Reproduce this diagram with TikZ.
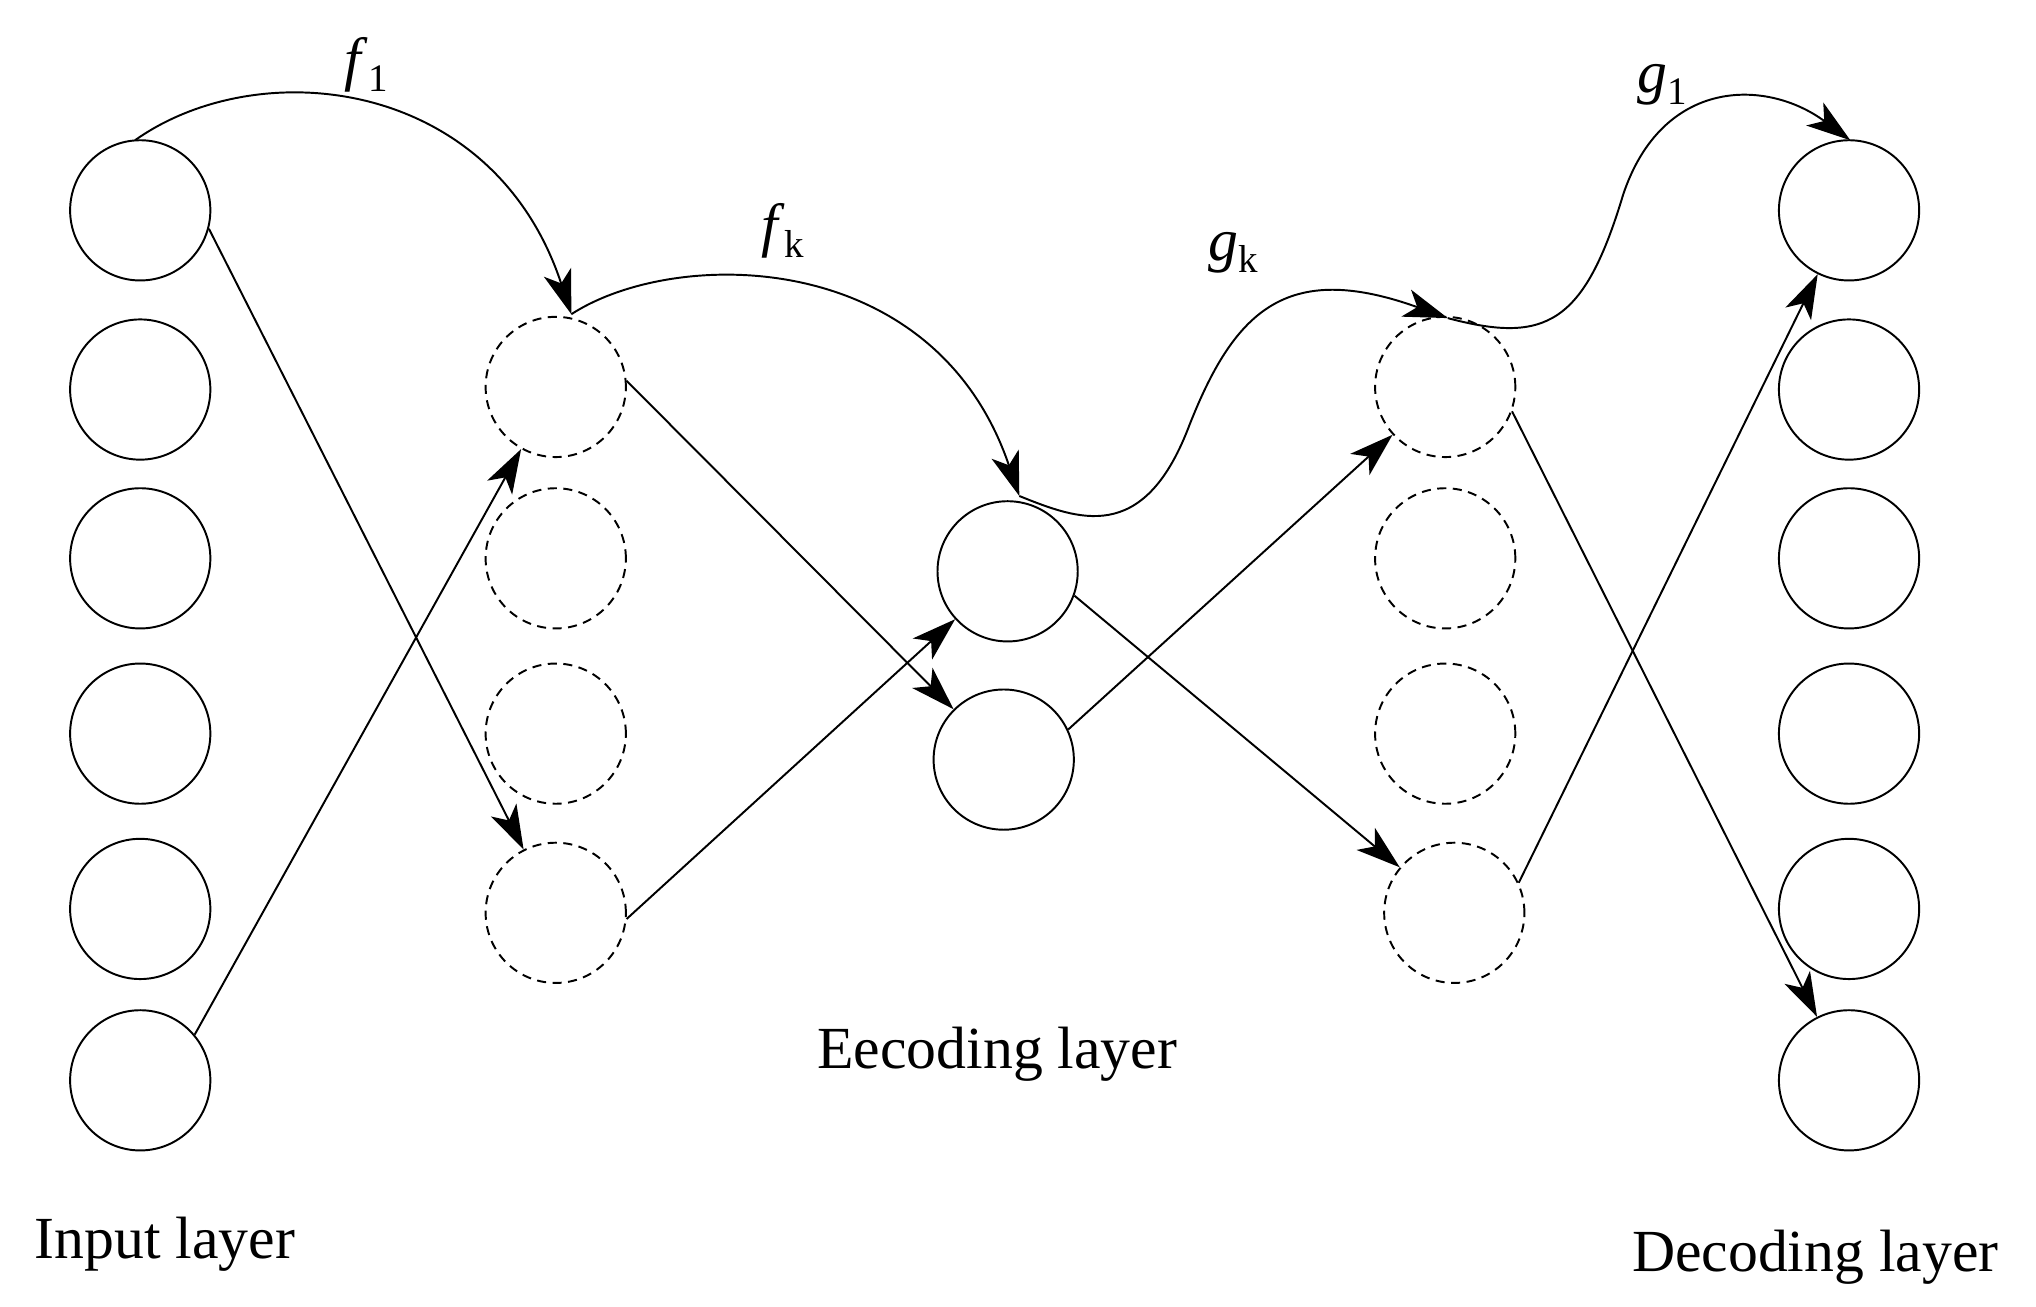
\documentclass[tikz,border=0pt]{standalone}
\usepackage{fontspec}
\setmainfont{Liberation Serif}
\usetikzlibrary{arrows.meta}
\newcommand{\sublab}[2]{\textit{#1}\raisebox{-0.2em}{\fontsize{30}{34}\selectfont #2}}
\begin{document}
\begin{tikzpicture}[x=1pt,y=-1pt,
  n/.style={circle,draw,line width=1.5pt,minimum size=108pt,inner sep=0},
  d/.style={n,dashed,dash pattern=on 7pt off 5pt},
  a/.style={line width=1.5pt,-{Stealth[length=34pt,width=22pt,inset=9pt]}},
  lab/.style={font=\fontsize{46}{52}\selectfont}]
\useasboundingbox (0,0) rectangle (1568,1006);
\foreach \i/\y in {1/162,2/300,3/430,4/565,5/700,6/832}{
  \node[n] (i\i) at (108,\y) {};
  \node[n] (o\i) at (1424,\y) {};}
\foreach \i/\y in {1/298,2/430,3/565,4/703}{\node[d] (p\i) at (428,\y) {};}
\foreach \i/\x/\y in {1/1113/298,2/1113/430,3/1113/565,4/1120/703}{\node[d] (q\i) at (\x,\y) {};}
\node[n] (m1) at (776,440) {};
\node[n] (m2) at (773,585) {};
\draw[a] (i1.-15) -- (p4);
\draw[a] (i6.40) -- (p1);
\draw[a] (p1.5) -- (m2);
\draw[a] (p4.-5) -- (m1);
\draw[a] (m1.-20) -- (q4);
\draw[a] (m2.25) -- (q1);
\draw[a] (q1.-20) -- (o6);
\draw[a] (q4.25) -- (o1);
\coordinate (s1) at (104,108);
\coordinate (e1) at (440,242);
\coordinate (e2) at (785,382);
\coordinate (e3) at (1115,245);
\coordinate (e4) at (1425,108);
\draw[a] (s1) .. controls (200,40) and (380,60) .. (e1);
\draw[a] (e1) .. controls (520,190) and (720,190) .. (e2);
\draw[a] (e2) .. controls (830,400) and (880,420) .. (915,330)
  .. controls (950,240) and (990,200) .. (e3);
\draw[a] (e3) .. controls (1190,265) and (1220,250) .. (1250,150)
  .. controls (1280,60) and (1360,60) .. (e4);
\node[lab] (f1) at (282,50) {\sublab{f}{1}};
\node[lab] (fk) at (603,178) {\sublab{f}{k}};
\node[lab] (gk) at (950,195) {\sublab{g}{k}};
\node[lab] (g1) at (1280,65) {\sublab{g}{1}};
\node[lab] (il) at (127,958) {Input layer};
\node[lab] (el) at (768,812) {Eecoding layer};
\node[lab] (dl) at (1398,968) {Decoding layer};
\end{tikzpicture}
\end{document}
